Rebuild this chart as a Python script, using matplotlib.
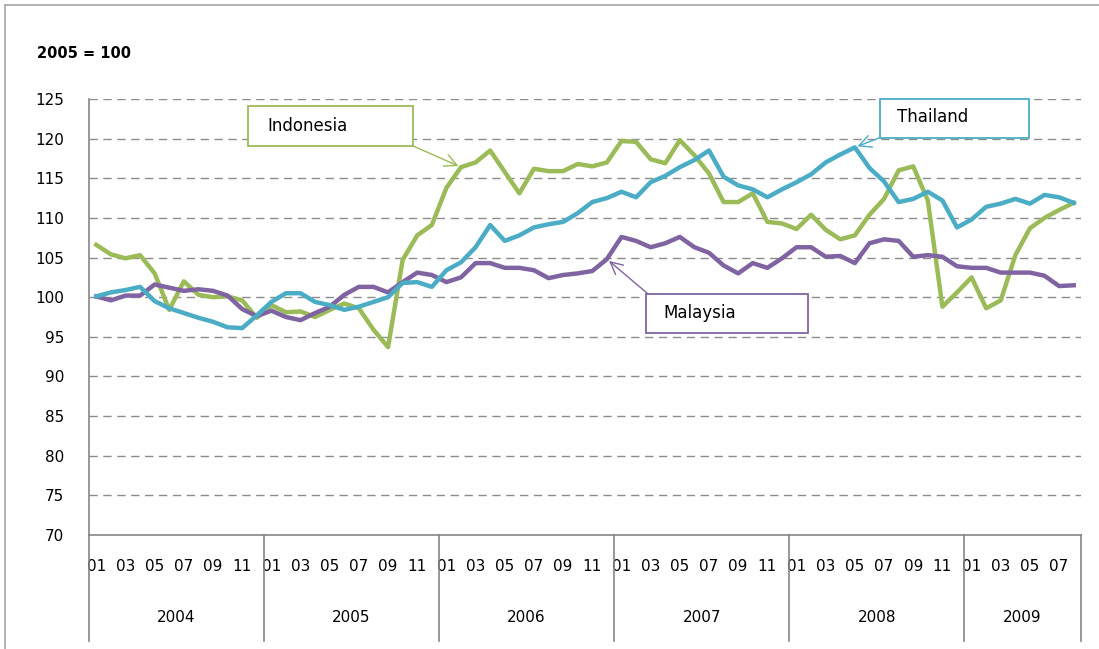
import numpy as np
import matplotlib
matplotlib.use("Agg")
import matplotlib.pyplot as plt
from matplotlib.patches import Rectangle
from matplotlib.lines import Line2D

# === Données (indice 2005 = 100), mensuelles 2004-01 .. 2009-08 ===
years = ["2004", "2005", "2006", "2007", "2008", "2009"]
months_per_year = [12, 12, 12, 12, 12, 8]

indonesia = [106.6, 105.4, 104.9, 105.3, 103.0, 98.4, 102.0, 100.3, 100.0, 100.1, 99.6, 97.4,
             99.0, 98.1, 98.2, 97.5, 98.4, 99.2, 98.6, 95.9, 93.7, 104.7, 107.8, 109.1,
             113.8, 116.4, 117.0, 118.5, 115.8, 113.1, 116.2, 115.9, 115.9, 116.8, 116.5, 117.0,
             119.7, 119.6, 117.4, 116.9, 119.8, 117.9, 115.6, 112.0, 112.0, 113.1, 109.5, 109.3,
             108.6, 110.4, 108.5, 107.3, 107.8, 110.4, 112.4, 116.0, 116.5, 112.2, 98.8, 100.6,
             102.5, 98.6, 99.6, 105.3, 108.7, 110.0, 111.0, 111.9]

thailand = [100.1, 100.6, 100.9, 101.3, 99.5, 98.6, 98.0, 97.4, 96.9, 96.2, 96.1, 97.7,
            99.4, 100.5, 100.5, 99.4, 99.0, 98.4, 98.8, 99.4, 100.0, 101.8, 101.9, 101.3,
            103.4, 104.4, 106.3, 109.1, 107.1, 107.8, 108.8, 109.2, 109.5, 110.6, 112.0, 112.5,
            113.3, 112.6, 114.5, 115.3, 116.4, 117.3, 118.5, 115.2, 114.1, 113.6, 112.6, 113.6,
            114.5, 115.5, 117.0, 118.0, 118.9, 116.3, 114.6, 112.0, 112.4, 113.3, 112.2, 108.8,
            109.8, 111.4, 111.8, 112.4, 111.8, 112.9, 112.6, 111.9]

malaysia = [100.1, 99.6, 100.2, 100.2, 101.6, 101.2, 100.8, 101.0, 100.8, 100.2, 98.5, 97.6,
            98.3, 97.5, 97.1, 98.0, 98.8, 100.3, 101.3, 101.3, 100.6, 101.9, 103.1, 102.8,
            101.9, 102.5, 104.3, 104.3, 103.7, 103.7, 103.4, 102.4, 102.8, 103.0, 103.3, 104.8,
            107.6, 107.1, 106.3, 106.8, 107.6, 106.3, 105.6, 104.0, 103.0, 104.3, 103.7, 104.9,
            106.3, 106.3, 105.1, 105.2, 104.3, 106.8, 107.3, 107.1, 105.1, 105.3, 105.1, 103.9,
            103.7, 103.7, 103.1, 103.1, 103.1, 102.7, 101.4, 101.5]

month_labels = []
for n in months_per_year:
    month_labels += ["%02d" % (m + 1) for m in range(n)]
x = np.arange(len(month_labels))

vert = "#9BBB59"
cyan = "#4BACC6"
violet = "#8064A2"
gris = "#868686"

plt.rcParams['font.family'] = ['DejaVu Sans']

fig = plt.figure(figsize=(10.99, 6.49), dpi=100)
ax = fig.add_axes([89 / 1099, 114 / 649, 992 / 1099, 436 / 649])

# cadre du graphique (seuls le haut et la gauche sont visibles)
fig.add_artist(Line2D([5 / 1099, 5 / 1099], [0, 1 - 5 / 649], transform=fig.transFigure,
                      color="#A6A6A6", lw=1.2))
fig.add_artist(Line2D([5 / 1099, 1], [1 - 5 / 649, 1 - 5 / 649], transform=fig.transFigure,
                      color="#A6A6A6", lw=1.2))

ax.plot(x, indonesia, color=vert, lw=3.2, solid_joinstyle="round", zorder=3)
ax.plot(x, thailand, color=cyan, lw=3.2, solid_joinstyle="round", zorder=4)
ax.plot(x, malaysia, color=violet, lw=3.2, solid_joinstyle="round", zorder=3)

ax.set_xlim(-0.5, len(x) - 0.5)
ax.set_ylim(70, 125)
ax.set_yticks(np.arange(70, 126, 5))
for v in range(75, 126, 5):
    ax.axhline(v, color="#8C8C8C", lw=1, ls=(0, (6, 4)), zorder=1)

ax.set_xticks(x[::2])
ax.set_xticklabels(month_labels[::2], fontsize=11)
ax.tick_params(axis="x", length=0, pad=17)
ax.tick_params(axis="y", length=0, pad=18, labelsize=11)

for s in ["top", "right"]:
    ax.spines[s].set_visible(False)
ax.spines["left"].set_color(gris)
ax.spines["bottom"].set_color(gris)
ax.spines["left"].set_linewidth(1.2)
ax.spines["bottom"].set_linewidth(1.2)

# axe à deux niveaux : années
bornes = np.concatenate([[0], np.cumsum(months_per_year)]) - 0.5
trans = ax.get_xaxis_transform()
for b in bornes:
    ax.add_line(Line2D([b, b], [0, -0.242], transform=trans, color=gris, lw=1.2, clip_on=False))
for i, yr in enumerate(years):
    ax.text((bornes[i] + bornes[i + 1]) / 2, -0.19, yr, transform=trans,
            ha="center", va="center", fontsize=11)

fig.text(37 / 1099, 1 - 54 / 649, "2005 = 100", fontsize=10.5, fontweight="bold", va="center")

# étiquettes encadrées avec flèches
def etiquette(nom, couleur, box, txt_xy, pt, coin):
    ax.add_patch(Rectangle((box[0], box[1]), box[2], box[3], transform=ax.transAxes,
                           fill=True, facecolor="white", edgecolor=couleur, lw=1.3,
                           clip_on=False, zorder=6))
    ax.text(txt_xy[0], txt_xy[1], nom, transform=ax.transAxes, fontsize=12,
            va="center", ha="left", zorder=7)
    ax.annotate("", xy=pt, xycoords="data", xytext=coin, textcoords="axes fraction",
                arrowprops=dict(arrowstyle="->", color=couleur, lw=1.0,
                                mutation_scale=22, shrinkA=0, shrinkB=2),
                zorder=6, annotation_clip=False)

etiquette("Indonesia", vert, (0.160, 0.892, 0.167, 0.092), (0.180, 0.938),
          (25, indonesia[25]), (0.327, 0.892))
etiquette("Thailand", cyan, (0.797, 0.911, 0.151, 0.089), (0.815, 0.959),
          (52, thailand[52]), (0.797, 0.911))
etiquette("Malaysia", violet, (0.5615, 0.463, 0.1633, 0.090), (0.579, 0.509),
          (35, malaysia[35]), (0.5635, 0.553))

plt.savefig("out.png", dpi=100)
